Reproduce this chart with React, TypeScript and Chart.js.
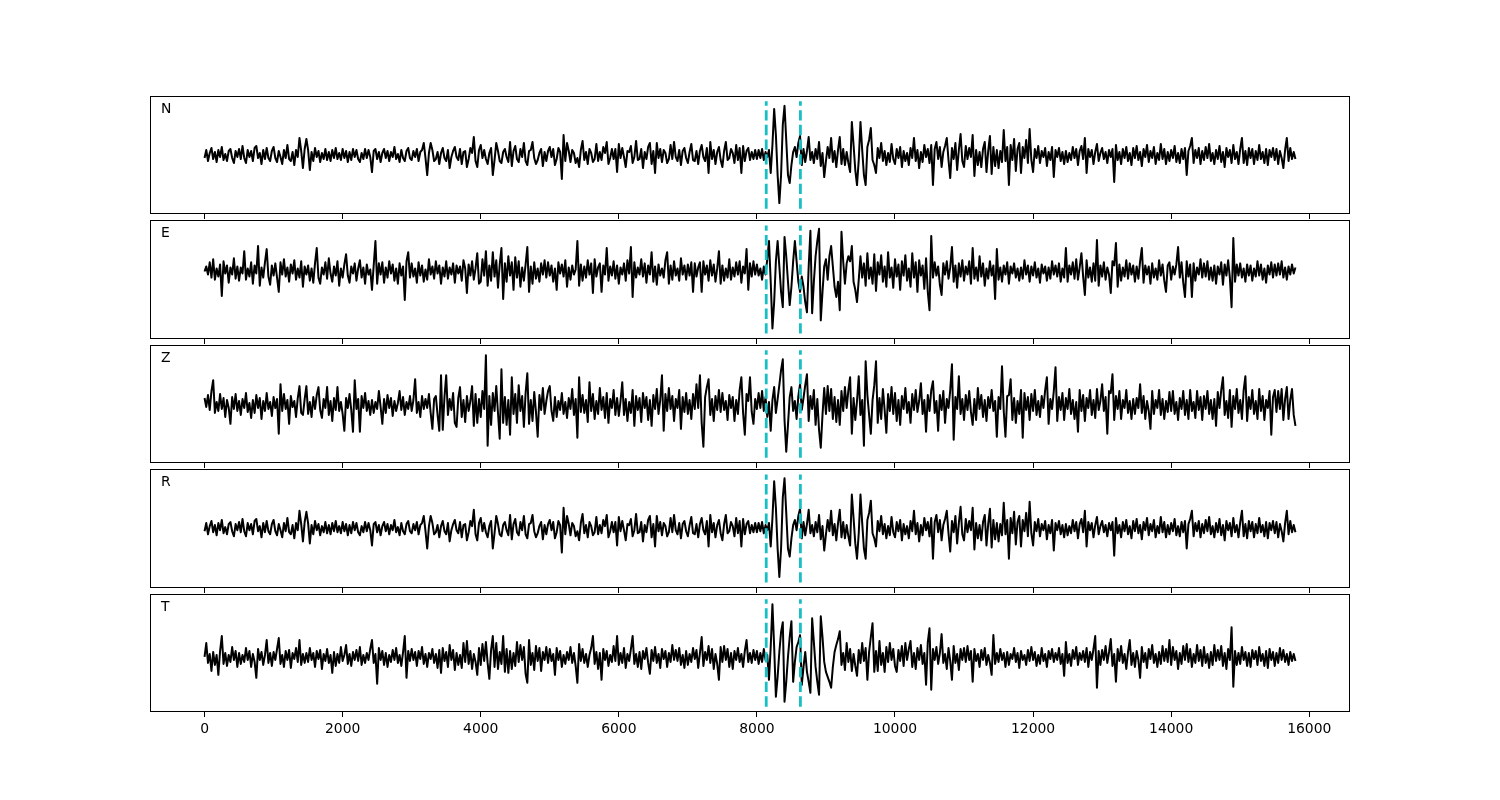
import React, { useEffect, useRef } from 'react';
import { Chart, registerables } from 'chart.js';

Chart.register(...registerables);

// ---------- data ----------
const SAMPLE_STEP = 25; // one sample every 25 units, 0..15800
const X_MIN = -790;
const X_MAX = 16590;
const TICK_VALUES = [0, 2000, 4000, 6000, 8000, 10000, 12000, 14000, 16000];
const PICK_TIMES = [8135, 8630];
const CHANNELS = ['N', 'E', 'Z', 'R', 'T'];

const N_VALUES = [
  -3, 5, -6, 2, 7, -4, 3, -7, 5, -2, 8, -5, 1, -6, 4, 6, -3, -8, 4, -2,
  6, -4, 9, -3, -8, 5, -2, 4, -6, 7, 9, -3, 2, -9, 5, -4, 7, -3, -6, 4,
  8, -3, -7, 4, -2, -9, 5, -3, 10, -4, -6, 3, -10, 5, -2, 17, 4, -13, 6, 16,
  5, -15, 3, -6, 7, -2, 4, -7, 2, -4, 6, -5, 3, -6, 5, -3, 7, -4, 2, -5,
  6, -3, 4, -7, 3, -5, 6, -2, 5, -4, -7, 2, -4, 6, -3, 5, -2, -17, 4, 6,
  -4, 3, -7, 2, 6, -3, 4, -6, 3, -2, 8, -4, 1, -7, 5, -3, -6, 4, 7, -3,
  -5, 4, -2, 6, -6, 3, 5, 12, -3, -20, 2, 12, 5, -6, -4, 3, -9, 2, 7, -3,
  -6, 5, -13, -2, 4, 8, -2, -5, 6, -9, 3, 4, -12, -4, 7, 2, 18, -6, -12, 5,
  10, -3, 5, -4, -9, 2, 7, -20, -5, 12, 4, -6, -8, 3, 6, -2, -7, 13, -11, 4,
  9, -4, -7, 6, -2, 12, -6, -10, 4, 5, 13, -3, -9, -5, 2, 6, -11, 3, -6, 4,
  8, -2, 6, -10, -4, 7, 3, -24, 20, -6, 12, 4, -7, 5, 2, -8, -3, -12, 5, 14,
  -5, 3, -9, 6, 2, -7, -4, 11, -6, 3, -5, 8, 2, 13, -9, -3, 6, -4, 6, -17,
  11, -3, 7, -2, -12, 4, 3, 9, -8, -2, 14, -5, -4, 6, -13, 3, -4, 8, 12, -9,
  4, -18, 12, -3, 6, -7, 5, 2, -8, -4, 10, -4, 13, -2, -6, 5, -10, 4, 7, -3,
  -8, 3, 11, -5, -6, 4, -9, 4, 10, -2, -6, 7, -18, 13, -4, 5, -9, 3, 8, -5,
  -12, 4, 13, -5, -3, 6, 2, -8, 10, -5, 7, -18, 9, -6, 4, 7, -5, 3, -4, 5,
  -4, 5, -3, 6, -5, 3, -2, 5, -18, 10, 46, 20, -20, -48, -20, 30, 49, 15, -20, -28,
  -10, 3, 8, -2, 12, 19, -10, 6, -7, 4, 18, -5, 3, -8, 6, -4, 13, -11, 2, -22,
  -6, 8, -3, 17, -7, 4, -12, 5, 18, -9, 6, -10, 3, -8, -17, 33, 10, -15, -30, -5,
  33, 5, -20, -30, 8, 15, 27, -5, -10, -18, 7, -3, 12, -6, 4, -10, 2, -7, 11, -4,
  -9, 6, -3, 8, -12, 4, -6, 2, -10, 7, -3, 17, -6, 5, -13, 3, -7, 10, -2, 6,
  -8, 10, -30, 6, 13, -4, 8, -12, 3, 9, 17, -5, -23, 7, -4, 12, -15, 5, 21, -6,
  -12, 9, -4, 7, -2, 20, -21, 5, -10, 3, -12, 6, 13, -17, 4, 19, -19, 8, -11, 5,
  -13, 4, -7, 25, -6, 8, -30, 10, -5, 16, -16, 6, 12, -18, 8, -3, 15, -8, 26, -5,
  -17, 6, -3, 9, -8, 4, -2, 7, -11, 3, -5, 8, -22, 5, -2, 7, -6, 3, -9, 4,
  -7, 2, -5, 8, -3, 6, -10, 4, 9, -4, 17, -18, 6, -2, 5, -9, 3, 11, -6, 2,
  7, -4, 3, -8, 5, -2, 6, -27, 10, -5, 3, -9, 6, -3, 8, -6, 2, -10, 7, -3,
  9, -5, 3, -11, 6, -2, 10, -7, 4, -3, 8, -9, 2, -5, 11, -4, 6, -9, 3, -6,
  5, -3, 9, -7, 2, -8, 6, -4, 7, -20, 4, 9, 17, -8, 5, -3, 7, -9, 4, -5,
  8, -3, 11, -6, 2, -9, 5, -4, 9, -7, 3, -12, 7, -2, 5, -8, 10, -4, 3, -9,
  6, 17, -8, 4, -10, 7, -3, 6, -9, 4, -5, 10, -4, 3, -8, 6, -10, 5, -2, 7,
  -5, 6, -9, 4, -3, -13, 5, 17, -6, 7, -4, 3, -4,
];

const E_VALUES = [
  0, 5, -3, 9, -6, 12, -8, 3, -5, 7, -24, 10, -2, 6, -11, 4, -3, 13, -7, 5,
  -9, 4, -2, 20, -8, 3, -5, 9, -12, 6, -2, 25, -14, 4, -6, 9, 22, -5, -13, 6,
  -4, 8, -6, -20, 9, -3, 12, -5, 4, -10, 7, -2, 11, -8, 3, -6, 10, -15, 5, -3,
  6, -9, 3, -11, 8, 23, -6, -12, 4, -3, 9, -7, 13, -2, -10, 5, -4, 10, -14, 3,
  -6, 7, 17, -4, -11, 5, -2, 8, -9, 3, 11, -6, 4, -12, 7, -3, 2, -18, 6, 30,
  -12, 8, -3, 9, -11, 4, -6, 10, -2, 7, -9, 3, -12, 8, -4, 5, -28, 10, 19, -6,
  8, -5, 3, -11, 9, -4, 6, -10, 2, -8, 12, -3, 5, -7, 10, -2, 6, -12, 4, -5,
  10, -7, 4, -3, 8, -11, 6, -2, 5, -9, 11, 3, -21, 7, -4, 10, -8, 3, 18, -12,
  -10, 12, -4, 20, -14, 6, -9, 19, -5, 11, -16, 7, 23, -27, 8, -10, 15, -4, 9, -18,
  14, -6, 10, -15, 4, -9, 7, 24, -20, 5, -12, 9, -7, 3, -10, 8, -3, 11, -6, 9,
  -4, 6, -10, 3, -18, 9, -2, 7, -5, 11, -15, 4, -8, 6, -3, 2, 30, -14, 7, -9,
  5, -6, 11, -3, 8, -21, 12, -5, 4, 8, -20, 6, -3, 23, -9, 5, -4, 10, -7, 6,
  -12, 4, -3, 8, -9, 11, -2, 24, -25, 9, -6, 4, -3, 12, -5, 8, -11, 6, -3, 19,
  -10, 5, -13, 7, -4, 3, -6, 11, 19, -12, 6, -8, 10, -4, 3, -9, 13, -3, 6, -8,
  7, -4, 9, -20, 8, -5, 4, 9, -20, 10, -3, 6, -9, 11, -4, 7, -10, 3, 20, -12,
  6, -9, 3, -6, 12, -8, 4, -5, 9, -3, 10, -11, 5, -2, 22, -18, 8, -5, 10, -3,
  7, -4, 3, -8, 5, -3, 12, 30, -10, -56, -30, 10, 30, 5, -20, -35, 34, 15, -10, -33,
  -15, 10, 30, 10, -10, -20, -5, -15, -30, -40, 5, 40, -41, -10, 15, 30, 42, -48, -20, 5,
  12, -8, 15, 25, 5, -15, -25, -10, -38, 39, 10, -12, 8, 15, 10, 25, -10, -18, -30, -8,
  15, -6, 8, -14, 18, -7, 4, -12, 17, -19, 9, -3, 16, -10, 5, -15, 19, -6, 4, -16,
  12, -5, 7, -18, 10, -4, 16, -9, 3, -15, 18, -6, 9, -20, 11, -4, 6, -17, 13, -20,
  -38, 35, -6, 9, -4, 5, -13, -23, 8, -3, 10, -7, 4, 24, -10, 6, -16, 8, -5, 11,
  -9, 5, -3, 10, -12, 23, -7, 4, -9, 15, -5, 8, -14, 3, -7, 10, -4, 6, -27, 22,
  -8, 4, -10, 6, -3, 9, -12, 5, -2, 8, -6, 3, -9, 4, -7, 11, -3, 6, -10, 5,
  -4, 9, -6, 3, -11, 7, -2, 5, -9, 4, -7, 10, -3, 6, -5, 8, -10, 3, -6, 23,
  -10, 6, -3, 9, -7, 12, -8, 4, 18, -5, -23, 11, -6, 4, -10, 8, -9, 31, -14, 6,
  -5, 9, -8, 4, -3, -21, 10, 6, 28, -15, 7, -9, 4, -5, 11, -7, 8, -3, 6, -10,
  5, -7, 10, 23, -11, 6, -3, 5, -12, 8, -6, 3, -8, 11, -4, 7, -9, -20, 6, 9,
  -8, 5, -3, 7, 24, -6, 9, -11, -25, 10, -5, 7, -25, 8, -9, 4, -3, 12, -6, 8,
  -5, 10, -8, 4, -9, 6, -12, 5, -3, 9, -13, 7, -4, 11, -6, -35, 33, -10, 7, -4,
  8, -6, 3, -10, 7, -4, 6, -9, 3, -5, 10, -4, 7, -8, 3, -11, 6, -3, 9, -6,
  7, -4, 8, -3, 10, -6, 4, -8, 5, -3, 7, -2, 4,
];

const Z_VALUES = [
  7, -2, 10, -5, 14, 25, -8, 3, -6, 11, -4, 7, -12, 5, -3, -19, 8, -4, 11, -6,
  4, -10, 6, -3, 12, -7, 2, -13, 5, -8, 10, -3, 7, -14, 4, -6, 12, -4, 3, -11,
  8, -3, 6, -29, 21, -6, 11, -4, 5, -19, 9, -2, 4, -12, 7, 19, -8, -10, 6, 19,
  -9, 3, -12, 8, -4, 10, 18, -5, -13, 6, -3, 18, -10, 4, -16, 7, -5, 18, -6, 3,
  -9, -26, 7, -3, 11, -5, -27, 25, -4, 6, -27, 9, -3, 12, -6, 4, -10, 5, -8, 3,
  -4, 14, -2, -19, 6, -8, 10, -3, 7, -11, 4, -6, 2, 14, -5, 8, -10, 3, -4, 9,
  -6, 5, 26, -8, 3, -12, 9, -4, 6, -3, 11, -8, -24, 6, 9, -10, -26, 30, -25, 8,
  30, -10, 6, -5, 12, -18, -22, 7, 18, -12, 5, -17, 9, -6, 4, 19, -21, 11, -18, 6,
  -12, 14, -4, 50, -41, 9, -20, 12, -6, 19, -8, -34, 36, -18, 8, -20, 5, -30, 28, -9,
  11, -18, 20, -6, 9, -22, 12, 32, -19, 5, -16, 13, -7, -32, 10, -5, 17, -9, 4, 14,
  19, -6, -16, 8, -12, 4, -5, 12, -9, 3, -13, 7, -4, 16, -10, 6, -33, 28, -7, 10,
  -8, 5, -17, 23, -6, 11, -14, 4, -9, 17, -5, 8, -13, 12, -18, 6, -3, 15, -10, 7,
  -11, 4, 23, -10, 6, -16, 3, -8, 15, -21, 9, -5, 7, -17, 12, -3, 8, -15, 5, -21,
  10, -4, 16, -9, 5, 30, -26, 11, -6, 17, -4, 9, -16, 6, -3, 15, -24, 8, -7, 12,
  -9, 5, -14, 11, -4, 21, -3, 30, -18, -42, 8, 18, 26, -10, 6, -16, 9, -5, 15, -7,
  12, -5, 4, -15, 10, -3, 8, -16, 5, -9, 15, 28, -8, -30, 11, 4, 28, -7, -19, 6,
  -4, 12, -3, 14, -6, 8, -12, 3, -26, 5, 18, -8, 6, 20, 35, 46, -15, -47, -20, 8,
  18, -6, 4, -14, 9, 21, -5, 7, 20, 31, -16, 9, -4, 15, -20, 6, -25, -43, -10, 17,
  -9, 19, -6, 16, -14, 8, -17, 5, -20, 14, -6, 18, -3, 15, 28, -29, 7, -15, 4, 29,
  -10, 5, -41, 44, 10, -10, -29, 5, 20, 44, -18, 7, -14, 16, -5, -28, 11, -6, 18, -9,
  12, -16, 5, -20, 9, -4, 17, -8, 3, -18, 11, -5, 15, -7, 4, 22, -9, 5, -27, 10,
  -6, 15, 24, -8, 4, -26, 10, -5, 14, -18, 6, -3, 15, 41, -35, 8, -4, 29, -9, 6,
  -15, 10, -5, 14, -7, -20, 6, -15, 17, -4, 10, -12, 5, -16, 8, -3, 15, -6, 4, -32,
  8, -4, 39, -6, -32, 9, 10, 26, -15, 7, -18, 4, -9, 15, -33, 12, -5, 8, -15, 11,
  -6, 15, -10, 4, -12, 9, -3, 15, 28, -19, 6, -4, 14, 38, -16, 8, -5, 12, -15, 7,
  -4, 16, -9, 5, -14, 3, -27, 15, -6, 10, -16, 7, -3, 15, -10, 5, -13, 16, -5, 4,
  21, -6, 8, -29, 14, 12, 31, -15, 9, -4, 14, -14, 5, -3, 15, -8, 4, -14, 6, -9,
  7, -3, 21, -8, 9, -14, 4, -6, -24, 14, -9, 5, -3, 15, -10, 6, -14, 4, -7, 13,
  -6, 14, -9, 3, -15, 7, -4, 14, -10, 5, -14, 15, -6, 3, -13, 14, -5, 8, -15, 9,
  -4, 14, -9, 5, -14, 6, -21, 13, -3, 15, 28, -10, 4, -13, 15, -22, 9, -4, 16, -8,
  5, -14, 15, 29, -16, 8, -4, 15, -9, 4, -14, 16, -6, 9, -15, 5, -3, 14, -30, 8,
  15, -7, 14, -4, 16, -15, 6, 18, -14, 5, 16, -10, -21,
];

const R_VALUES = [
  -3, 5, -6, 2, 7, -4, 3, -7, 5, -2, 8, -5, 1, -6, 4, 6, -3, -8, 4, -2,
  6, -4, 9, -3, -8, 5, -2, 4, -6, 7, 9, -3, 2, -9, 5, -4, 7, -3, -6, 4,
  8, -3, -7, 4, -2, -9, 5, -3, 10, -4, -6, 3, -10, 5, -2, 17, 4, -13, 6, 16,
  5, -15, 3, -6, 7, -2, 4, -7, 2, -4, 6, -5, 3, -6, 5, -3, 7, -4, 2, -5,
  6, -3, 4, -7, 3, -5, 6, -2, 5, -4, -7, 2, -4, 6, -3, 5, -2, -17, 4, 6,
  -4, 3, -7, 2, 6, -3, 4, -6, 3, -2, 8, -4, 1, -7, 5, -3, -6, 4, 7, -3,
  -5, 4, -2, 6, -6, 3, 5, 12, -3, -20, 2, 12, 5, -6, -4, 3, -9, 2, 7, -3,
  -6, 5, -13, -2, 4, 8, -2, -5, 6, -9, 3, 4, -12, -4, 7, 2, 18, -6, -12, 5,
  10, -3, 5, -4, -9, 2, 7, -20, -5, 12, 4, -6, -8, 3, 6, -2, -7, 13, -11, 4,
  9, -4, -7, 6, -2, 12, -6, -10, 4, 5, 13, -3, -9, -5, 2, 6, -11, 3, -6, 4,
  8, -2, 6, -10, -4, 7, 3, -24, 20, -6, 12, 4, -7, 5, 2, -8, -3, -12, 5, 14,
  -5, 3, -9, 6, 2, -7, -4, 11, -6, 3, -5, 8, 2, 13, -9, -3, 6, -4, 6, -17,
  11, -3, 7, -2, -12, 4, 3, 9, -8, -2, 14, -5, -4, 6, -13, 3, -4, 8, 12, -9,
  4, -18, 12, -3, 6, -7, 5, 2, -8, -4, 10, -4, 13, -2, -6, 5, -10, 4, 7, -3,
  -8, 3, 11, -5, -6, 4, -9, 4, 10, -2, -6, 7, -18, 13, -4, 5, -9, 3, 8, -5,
  -12, 4, 13, -5, -3, 6, 2, -8, 10, -5, 7, -18, 9, -6, 4, 7, -5, 3, -4, 5,
  -4, 5, -3, 6, -5, 3, -2, 5, -18, 10, 46, 20, -20, -48, -20, 30, 49, 15, -20, -28,
  -10, 3, 8, -2, 12, 19, -10, 6, -7, 4, 18, -5, 3, -8, 6, -4, 13, -11, 2, -22,
  -6, 8, -3, 17, -7, 4, -12, 5, 18, -9, 6, -10, 3, -8, -17, 33, 10, -15, -30, -5,
  33, 5, -20, -30, 8, 15, 27, -5, -10, -18, 7, -3, 12, -6, 4, -10, 2, -7, 11, -4,
  -9, 6, -3, 8, -12, 4, -6, 2, -10, 7, -3, 17, -6, 5, -13, 3, -7, 10, -2, 6,
  -8, 10, -30, 6, 13, -4, 8, -12, 3, 9, 17, -5, -23, 7, -4, 12, -15, 5, 21, -6,
  -12, 9, -4, 7, -2, 20, -21, 5, -10, 3, -12, 6, 13, -17, 4, 19, -19, 8, -11, 5,
  -13, 4, -7, 25, -6, 8, -30, 10, -5, 16, -16, 6, 12, -18, 8, -3, 15, -8, 26, -5,
  -17, 6, -3, 9, -8, 4, -2, 7, -11, 3, -5, 8, -22, 5, -2, 7, -6, 3, -9, 4,
  -7, 2, -5, 8, -3, 6, -10, 4, 9, -4, 17, -18, 6, -2, 5, -9, 3, 11, -6, 2,
  7, -4, 3, -8, 5, -2, 6, -27, 10, -5, 3, -9, 6, -3, 8, -6, 2, -10, 7, -3,
  9, -5, 3, -11, 6, -2, 10, -7, 4, -3, 8, -9, 2, -5, 11, -4, 6, -9, 3, -6,
  5, -3, 9, -7, 2, -8, 6, -4, 7, -20, 4, 9, 17, -8, 5, -3, 7, -9, 4, -5,
  8, -3, 11, -6, 2, -9, 5, -4, 9, -7, 3, -12, 7, -2, 5, -8, 10, -4, 3, -9,
  6, 17, -8, 4, -10, 7, -3, 6, -9, 4, -5, 10, -4, 3, -8, 6, -10, 5, -2, 7,
  -5, 6, -9, 4, -3, -13, 5, 17, -6, 7, -4, 3, -4,
];

const T_VALUES = [
  0, 14, -6, 3, -14, 5, -8, 2, -18, 6, 21, -7, 4, -9, 2, -5, 10, -3, 6, -10,
  4, -7, 2, -5, 9, -3, 6, -10, 3, -5, -21, 8, -3, 5, -8, 2, 17, -6, 4, -9,
  5, -3, 8, 19, -7, 2, -10, 6, -3, 7, -11, 4, -2, 9, -5, 17, -8, 3, -6, 4,
  -5, 9, -3, 4, -10, 6, -2, 7, -12, 3, -4, 8, -6, 2, -16, 5, -9, 3, -6, 10,
  -4, 2, 12, -7, 3, -9, 5, -3, 7, -4, 10, -8, 2, -6, 4, -3, 8, 17, -6, 3,
  -27, 9, -3, 6, -8, 4, -10, 2, -5, 7, -3, 9, -6, 2, -9, 5, 21, -21, 6, -4,
  8, -3, 5, -9, 6, -2, 10, -7, 3, -10, 4, -2, 8, -6, 3, -11, 7, -16, 9, -4,
  5, -10, 12, -3, 7, -13, 4, -8, 2, -11, 14, -5, 16, -7, 6, -12, 3, -5, -18, 9,
  -8, 13, -4, 15, -6, -22, 7, 21, -10, 14, -12, 5, -7, 21, -15, 8, -16, 6, -12, 4,
  -9, 15, -5, 12, -3, 10, -17, -26, 17, -8, 4, -13, 11, -4, 9, -14, 5, -3, 10, -6,
  8, -4, 3, -18, 9, -3, 6, -10, 2, -7, 5, -3, 10, -6, 4, -9, -26, 13, -4, 8,
  -6, 3, -10, 2, 9, 21, -7, 5, -12, 4, -23, 8, -3, 6, -9, 2, -5, 11, -4, 21,
  -8, 4, -6, 9, -11, 3, -4, 8, 21, -7, 3, -10, 5, -12, 6, -2, 9, -6, -17, 7,
  -4, 10, -6, 3, -11, 8, -2, 6, -10, 4, -5, 12, -3, 7, -4, 9, -8, 2, -11, 6,
  -8, 3, -5, 9, -2, 7, -11, 4, 20, -9, 5, -3, 11, -6, 8, -12, 3, -7, -23, 10,
  -5, 11, -3, 8, -10, 4, -12, 6, -3, 9, -5, 3, -10, 6, 17, -5, 4, -6, 7, -3,
  6, -7, 4, -5, 8, -3, 2, -23, 10, 53, 10, -40, -20, 5, 25, 35, -45, -25, 0, 20,
  36, -25, -5, 10, 15, 22, -28, -10, 5, -15, -25, -36, 39, 15, -10, -25, -38, 41, 20, -5,
  -15, -20, -25, -31, -10, 5, 12, 18, 26, -8, 4, -13, 14, -5, 8, -14, 3, -9, -19, 7,
  -6, 14, -4, 9, -23, 5, 20, 34, -15, 6, -14, 16, -8, 4, -15, 10, -5, 14, -3, 8,
  -9, -15, 7, -4, 11, -9, 14, -3, 8, 16, -10, 4, -12, 9, -3, 12, -7, 4, -28, 15,
  29, -33, 8, -3, 10, -7, 4, 23, -6, 3, -12, 9, -4, -23, 11, -6, 3, -13, 8, -3,
  9, -5, 11, -3, 6, -25, 8, -4, 3, -10, 7, -3, 9, -8, 2, -6, -18, 22, -7, 4,
  -5, 8, -3, 4, -10, 5, -8, 3, -2, 9, -5, 4, -11, 6, -3, 2, -8, 7, -4, 10,
  -3, 5, -9, 2, -7, 9, -4, 3, -10, 6, -2, 8, -5, 4, -3, 9, -7, 3, -19, 15,
  -6, 3, -9, 7, -2, 10, -8, 4, -3, 6, -5, 9, -10, 5, -3, 8, 21, -31, 6, -8,
  7, -3, 11, -6, 5, 18, -9, 3, -25, 8, -4, 11, -6, 3, -12, 5, 17, -8, 4, -10,
  6, -3, -21, 10, -5, 4, -11, 8, -2, 12, -6, 3, -10, 5, -7, 11, -4, 8, -5, 17,
  -8, 10, -3, 6, -12, 4, -7, 11, -3, 13, -5, 8, -10, 3, -6, 12, -4, 7, -9, 10,
  -6, 3, -11, 5, -8, 12, -4, 7, -3, 11, -9, 4, -12, 8, -3, 30, -30, 6, -8, 4,
  -7, 10, -3, 5, -9, 4, -10, 7, -2, 6, -8, 10, -4, 3, -9, 6, -11, 8, -3, 5,
  -9, 4, -6, 9, -3, 7, -5, 3, -8, 5, -4, 3, -4,
];

// data extent of each trace (lowest, highest)
const N_RANGE = [-53.5, 53.5];
const E_RANGE = [-61, 45.3];
const Z_RANGE = [-53, 55];
const R_RANGE = [-53.5, 52.8];
const T_RANGE = [-50, 58];

// ---------- styling / layout ----------
const TRACE_COLOR = '#000000';
const PICK_COLOR = '#17bfc4';
const PANEL_TOPS = [96, 220, 345, 469, 594];
const PANEL_HEIGHTS = [118, 119, 118, 119, 118];
const FONT_FAMILY = "'DejaVu Sans', sans-serif";

const decorPlugin = {
  id: 'panelDecor',
  afterDraw(chart: any, _args: any, opts: any) {
    const { ctx, chartArea: a } = chart;
    ctx.save();
    ctx.strokeStyle = '#000';
    ctx.lineWidth = 1;
    ctx.strokeRect(a.left + 0.5, a.top + 0.5, a.right - a.left - 1, a.bottom - a.top - 1);
    ctx.fillStyle = '#000';
    ctx.font = `13.9px ${FONT_FAMILY}`;
    ctx.textBaseline = 'alphabetic';
    ctx.textAlign = 'left';
    ctx.fillText(opts.label, a.left + 11, a.top + 17);
    ctx.restore();
  },
};

type PanelProps = {
  label: string;
  values: number[];
  range: number[];
  top: number;
  height: number;
  showLabels: boolean;
};

function Panel({ label, values, range, top, height, showLabels }: PanelProps) {
  const ref = useRef<HTMLCanvasElement | null>(null);
  const axisH = showLabels ? 44 : 6;
  const canvasH = height + axisH;

  useEffect(() => {
    if (!ref.current) return;
    const span = range[1] - range[0];
    const chart = new Chart(ref.current, {
      type: 'line',
      data: {
        datasets: [
          ...PICK_TIMES.map((t) => ({
            data: [
              { x: t, y: range[0] },
              { x: t, y: range[1] },
            ],
            borderColor: PICK_COLOR,
            borderWidth: 2.8,
            borderDash: [10.3, 4.4],
            pointRadius: 0,
            order: 1,
            fill: false,
          })),
          {
            data: values.map((v, i) => ({ x: i * SAMPLE_STEP, y: v })),
            borderColor: TRACE_COLOR,
            borderWidth: 2,
            borderJoinStyle: 'round' as const,
            pointRadius: 0,
            tension: 0,
            order: 2,
            fill: false,
          },
        ],
      },
      options: {
        animation: false,
        responsive: false,
        maintainAspectRatio: false,
        events: [],
        layout: { padding: { left: 150, right: 150, top: 0, bottom: 0 } },
        plugins: {
          legend: { display: false },
          tooltip: { enabled: false },
          // @ts-ignore
          panelDecor: { label },
        },
        scales: {
          x: {
            type: 'linear',
            min: X_MIN,
            max: X_MAX,
            afterBuildTicks: (s: any) => {
              s.ticks = TICK_VALUES.map((v) => ({ value: v }));
            },
            afterFit: (s: any) => {
              s.height = axisH;
            },
            grid: {
              display: true,
              drawOnChartArea: false,
              drawTicks: true,
              tickLength: 5,
              tickColor: '#000',
              tickWidth: 1,
            },
            border: { display: false },
            ticks: {
              display: showLabels,
              color: '#000',
              font: { family: FONT_FAMILY, size: 13.9 },
              padding: 4,
              maxRotation: 0,
              autoSkip: false,
              callback: (v: any) => String(v),
            },
          },
          y: {
            type: 'linear',
            display: false,
            min: range[0] - 0.05 * span,
            max: range[1] + 0.05 * span,
          },
        },
      },
      plugins: [decorPlugin],
    } as any);
    return () => chart.destroy();
  }, []);

  return (
    <canvas
      ref={ref}
      width={1500}
      height={canvasH}
      style={{ position: 'absolute', left: 0, top, width: 1500, height: canvasH }}
    />
  );
}

const TRACES = [N_VALUES, E_VALUES, Z_VALUES, R_VALUES, T_VALUES];
const RANGES = [N_RANGE, E_RANGE, Z_RANGE, R_RANGE, T_RANGE];

export default function App() {
  return (
    <div
      style={{
        position: 'absolute',
        left: 0,
        top: 0,
        width: 1500,
        height: 800,
        background: '#ffffff',
        overflow: 'hidden',
      }}
    >
      {CHANNELS.map((ch, k) => (
        <Panel
          key={ch}
          label={ch}
          values={TRACES[k]}
          range={RANGES[k]}
          top={PANEL_TOPS[k]}
          height={PANEL_HEIGHTS[k]}
          showLabels={k === CHANNELS.length - 1}
        />
      ))}
    </div>
  );
}
